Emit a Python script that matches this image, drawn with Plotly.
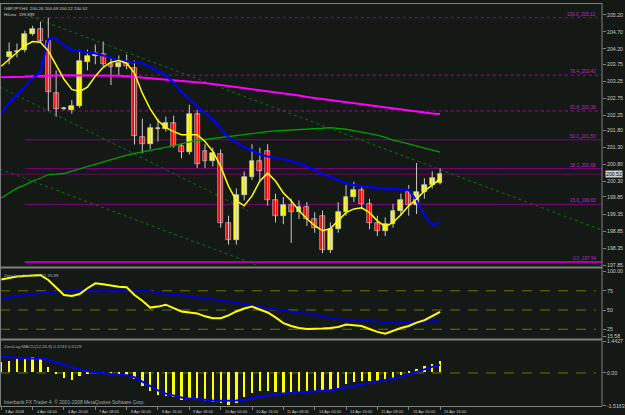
import plotly.graph_objects as go

# ---------------- data ----------------
bar_index = list(range(56))
opens  = [203.97,204.10,204.18,204.65,204.80,204.42,202.90,202.44,202.41,202.53,203.81,203.98,204.04,203.75,203.66,203.78,
          203.63,201.62,201.42,201.86,201.86,202.03,201.36,201.16,202.29,201.19,200.90,201.10,199.10,198.60,199.90,200.45,
          200.90,201.20,199.75,199.30,199.60,199.40,199.55,199.20,199.30,198.30,198.90,199.40,199.85,200.05,199.65,199.10,
          198.85,199.05,199.45,200.00,199.60,200.00,200.20,200.26]
highs  = [204.39,204.36,204.74,204.88,205.00,205.12,203.57,202.50,202.70,204.18,204.18,204.33,204.42,203.95,204.01,204.04,
          203.86,202.15,202.00,202.15,202.21,202.24,201.42,202.56,202.41,201.40,201.30,201.25,199.30,200.10,200.60,201.40,
          201.30,201.40,199.95,199.85,199.80,199.75,199.70,199.40,199.45,199.10,199.70,200.20,200.30,200.20,199.80,199.30,
          199.25,199.65,199.95,200.20,200.85,200.40,200.60,200.69]
lows   = [203.75,203.95,204.10,204.59,204.39,202.38,202.21,202.40,202.30,202.47,203.57,203.75,203.70,203.14,203.43,203.60,
          201.39,201.13,201.25,201.48,201.77,201.30,200.99,201.10,200.70,200.70,200.75,198.95,198.45,198.45,199.75,200.35,
          200.30,199.60,199.10,199.05,198.50,199.20,199.00,198.80,198.20,198.20,198.80,199.30,199.70,199.50,198.90,198.70,
          198.70,198.95,199.30,199.30,199.35,199.80,200.10,200.22]
closes = [204.10,204.15,204.65,204.80,204.42,202.93,202.44,202.46,202.53,203.84,203.98,204.07,203.75,203.66,203.78,203.69,
          201.65,201.42,201.89,201.88,202.03,201.36,201.16,202.29,200.81,200.90,201.15,199.10,198.60,199.90,200.45,200.90,
          200.60,199.75,199.30,199.60,199.40,199.55,199.20,198.95,198.30,198.90,199.40,199.85,200.05,199.65,199.10,198.85,
          199.05,199.45,199.75,199.60,200.00,200.20,200.40,200.52]

line_index = list(range(-1, 56))
ma_yellow = [203.69,203.89,204.10,204.30,204.42,204.40,204.14,203.72,203.31,203.01,202.95,203.08,203.40,203.66,203.81,203.86,
             203.78,203.49,202.90,202.44,202.09,201.89,201.77,201.68,201.68,201.68,201.48,201.19,200.75,200.17,199.74,199.59,
             199.88,200.32,200.55,200.32,199.97,199.74,199.45,199.21,199.01,198.86,198.92,199.15,199.39,199.50,199.53,199.39,
             199.15,198.98,199.10,199.33,199.59,199.79,200.03,200.20,200.38]
ma_blue = [202.32,202.61,202.85,203.08,203.34,203.52,204.50,204.50,204.30,204.18,204.13,204.10,204.07,204.01,203.95,203.86,
           203.83,203.81,203.78,203.66,203.54,203.43,203.20,202.93,202.73,202.50,202.32,202.12,201.86,201.60,201.45,201.31,
           201.22,201.10,201.04,201.01,200.96,200.90,200.84,200.75,200.64,200.52,200.43,200.35,200.26,200.20,200.17,200.14,
           200.11,200.08,200.08,200.08,200.06,199.74,199.30,199.04,199.10]
ma_magenta = [203.37,203.37,203.38,203.38,203.40,203.40,203.41,203.42,203.43,203.43,203.43,203.43,203.43,203.43,203.43,203.41,
              203.40,203.38,203.37,203.36,203.34,203.31,203.30,203.27,203.25,203.22,203.20,203.17,203.14,203.11,203.08,203.05,
              203.02,202.99,202.96,202.93,202.90,202.88,202.83,202.79,202.76,202.73,202.70,202.67,202.64,202.60,202.56,202.53,
              202.50,202.47,202.44,202.41,202.38,202.35,202.32,202.30,202.29]
ma_green = [199.82,199.97,200.11,200.20,200.32,200.40,200.51,200.52,200.54,200.61,200.68,200.75,200.81,200.87,200.94,201.02,
            201.08,201.13,201.17,201.22,201.26,201.31,201.36,201.42,201.47,201.51,201.54,201.57,201.60,201.63,201.65,201.70,
            201.73,201.76,201.77,201.79,201.80,201.81,201.83,201.84,201.86,201.87,201.89,201.87,201.84,201.80,201.76,201.71,
            201.67,201.60,201.52,201.47,201.41,201.35,201.29,201.23,201.17]

stoch_main = [89.7,91.6,93.4,94.1,94.7,95.3,89.0,79.6,69.5,68.2,70.8,78.3,84.6,83.4,81.5,80.2,79.6,69.5,62.0,53.1,54.4,56.9,
              52.5,48.1,46.8,45.6,41.8,39.3,39.3,43.0,48.1,51.9,54.4,50.6,46.8,40.5,33.0,29.2,26.7,25.4,25.4,26.0,26.7,27.9,
              31.1,30.4,29.2,25.4,21.6,19.1,22.9,26.7,29.2,33.6,36.7,42.5,47.6]
stoch_signal = [64.5,66.4,68.2,69.5,70.8,72.0,73.3,73.9,74.5,74.5,74.5,75.2,75.8,75.8,75.8,75.8,75.8,75.8,75.2,74.5,72.7,
                70.8,70.1,69.5,67.6,65.7,64.5,63.8,62.6,60.7,59.4,57.5,55.6,54.4,52.5,50.6,49.3,47.5,46.2,45.6,43.7,41.8,
                39.3,38.0,37.4,36.7,36.1,35.5,34.2,33.6,33.0,33.0,33.6,34.2,35.0,35.3,35.9]

macd_hist = [0.50,0.55,0.60,0.68,0.72,0.65,0.25,-0.05,-0.25,-0.35,-0.15,-0.05,0.02,-0.02,-0.08,-0.10,-0.15,-0.30,-0.60,
             -0.85,-1.05,-1.10,-1.15,-1.25,-1.20,-1.25,-1.30,-1.35,-1.40,-1.50,-1.40,-1.15,-0.95,-0.85,-0.85,-0.90,-0.95,
             -0.95,-0.90,-0.85,-0.85,-0.85,-0.80,-0.70,-0.55,-0.45,-0.40,-0.40,-0.40,-0.35,-0.25,-0.10,0.05,0.15,0.30,
             0.40,0.51]
macd_signal = [0.75,0.72,0.70,0.68,0.67,0.66,0.60,0.50,0.38,0.25,0.15,0.08,0.03,-0.02,-0.05,-0.08,-0.10,-0.20,-0.40,-0.60,
               -0.80,-0.95,-1.05,-1.13,-1.18,-1.22,-1.25,-1.27,-1.28,-1.28,-1.27,-1.24,-1.18,-1.08,-1.02,-0.98,-0.95,-0.93,
               -0.91,-0.89,-0.87,-0.84,-0.80,-0.74,-0.67,-0.60,-0.52,-0.45,-0.40,-0.34,-0.27,-0.18,-0.07,0.05,0.17,0.28,0.37]

fib_high, fib_low = 205.12, 197.94
fib_ratios = [100.0, 76.4, 61.8, 50.0, 38.2, 23.6, 0.0]
fib_start_bar = 2
current_price = 200.52

# trend channel endpoints (bar index, price)
trend_lines = [((2.63, 205.165), (75.67, 198.875)),
               ((-1.17, 203.08), (30.5, 199.45)),
               ((-1.17, 200.67), (31.6, 197.85))]

price_ticks = [205.20, 204.70, 204.20, 203.75, 203.25, 202.75, 202.25, 201.80, 201.30, 200.80, 200.30, 199.85,
               199.35, 198.85, 198.35, 197.85]
price_tick_text = ["205.20", "204.70", "204.20", "203.75", "203.25", "202.75", "202.25", "201.80", "201.30",
                   "200.80", "200.30", "199.85", "199.35", "198.85", "198.35", "197.85"]
stoch_ticks = [100, 75, 50, 25, 15.58]
stoch_tick_text = ["100.00", "75", "50", "25", "15.58"]
stoch_levels = [75, 50, 25]
macd_ticks = [1.4427, 0, -1.5163]
macd_tick_text = ["1.4427", "0.00", "-1.5163"]

time_tick_bars = [-1, 3, 7, 11, 15, 19, 23, 27, 31, 35, 39, 43, 47, 51, 55]
time_tick_text = ["3 Apr 2008", "4 Apr 04:00", "4 Apr 20:00", "7 Apr 08:00", "8 Apr 00:00", "8 Apr 16:00",
                  "9 Apr 08:00", "10 Apr 00:00", "10 Apr 16:00", "11 Apr 08:00", "14 Apr 00:00", "14 Apr 16:00",
                  "15 Apr 08:00", "16 Apr 00:00", "16 Apr 16:00"]

header_text = "GBPJPY,H4  200.26 200.69 200.22 200.52<br>HiLow  199.899"
stoch_text = "Zero Lag Stoch 47.62 35.88"
macd_text = "ZeroLag MACD(12,26,9) 0.3743 0.5129"
copyright_text = "Interbank FX Trader 4, \u00a9 2001-2008 MetaQuotes Software Corp."

# ---------------- layout geometry ----------------
W, H = 625, 415
M_R, M_B = 18, 9
PH = H - M_B


def py(p):
    return 1 - p / PH


BG = "#151915"
GRID = "#808080"
FONT = "Liberation Sans"
TXT = "#c8c8c8"

fig = go.Figure()

# wicks
wx, wy = [], []
for i, h, l in zip(bar_index, highs, lows):
    wx += [i, i, None]
    wy += [l, h, None]
fig.add_trace(go.Scatter(x=wx, y=wy, mode="lines", line=dict(color="#c8c8c8", width=1), hoverinfo="skip",
                         xaxis="x", yaxis="y"))

up_x, up_b, up_h, dn_x, dn_b, dn_h = [], [], [], [], [], []
for i, o, c in zip(bar_index, opens, closes):
    if c >= o:
        up_x.append(i); up_b.append(o); up_h.append(max(c - o, 0.02))
    else:
        dn_x.append(i); dn_b.append(c); dn_h.append(o - c)
fig.add_trace(go.Bar(x=up_x, y=up_h, base=up_b, width=0.62, marker=dict(color="#ffff00", line=dict(color="#d8d8d8", width=0.6)),
                     xaxis="x", yaxis="y"))
fig.add_trace(go.Bar(x=dn_x, y=dn_h, base=dn_b, width=0.62, marker=dict(color="#ff0000", line=dict(color="#d8d8d8", width=0.6)),
                     xaxis="x", yaxis="y"))

# moving averages
fig.add_trace(go.Scatter(x=line_index, y=ma_green, mode="lines", line=dict(color="#00a000", width=1.3), xaxis="x", yaxis="y"))
fig.add_trace(go.Scatter(x=line_index, y=ma_magenta, mode="lines", line=dict(color="#ff00ff", width=2), xaxis="x", yaxis="y"))
fig.add_trace(go.Scatter(x=line_index, y=ma_blue, mode="lines", line=dict(color="#0000ff", width=2.2), xaxis="x", yaxis="y"))
fig.add_trace(go.Scatter(x=line_index, y=ma_yellow, mode="lines", line=dict(color="#ffff00", width=1.5), xaxis="x", yaxis="y"))

# stochastic panel
fig.add_trace(go.Scatter(x=line_index, y=stoch_signal, mode="lines", line=dict(color="#0000d0", width=2), xaxis="x", yaxis="y2"))
fig.add_trace(go.Scatter(x=line_index, y=stoch_main, mode="lines", line=dict(color="#ffff00", width=2), xaxis="x", yaxis="y2"))

# macd panel
fig.add_trace(go.Bar(x=line_index, y=macd_hist, width=0.3, marker=dict(color="#ffff00", line=dict(width=0)), xaxis="x", yaxis="y3"))
fig.add_trace(go.Scatter(x=line_index, y=macd_signal, mode="lines", line=dict(color="#0000ff", width=2), xaxis="x", yaxis="y3"))

shapes = []
x_max = 75.67
x_min = -1.165
# fibo lines
for r in fib_ratios:
    lvl = fib_low + (fib_high - fib_low) * r / 100.0
    if r in (100.0, 76.4, 61.8):
        ln = dict(color="#800080", width=1.4, dash="dot")
    elif r == 0.0:
        ln = dict(color="#b000b0", width=2)
    else:
        ln = dict(color="#800080", width=1)
    shapes.append(dict(type="line", xref="x", yref="y", x0=fib_start_bar, x1=x_max, y0=lvl, y1=lvl, line=ln, layer="below"))
# current price line
shapes.append(dict(type="line", xref="x", yref="y", x0=x_min, x1=x_max, y0=current_price, y1=current_price,
                   line=dict(color="#700070", width=1), layer="below"))
# trend channel
for (a, b) in trend_lines:
    shapes.append(dict(type="line", xref="x", yref="y", x0=a[0], y0=a[1], x1=b[0], y1=b[1],
                       line=dict(color="#107010", width=1, dash="dot"), layer="below"))
# stoch levels
for lv in stoch_levels:
    shapes.append(dict(type="line", xref="paper", yref="y2", x0=0, x1=0.99, y0=lv, y1=lv,
                       line=dict(color="#707000", width=1, dash="10px,8px"), layer="below"))
shapes.append(dict(type="line", xref="paper", yref="y3", x0=0, x1=0.99, y0=0, y1=0,
                   line=dict(color="#707000", width=1, dash="10px,8px"), layer="below"))
# separators and frame
for p in (266.5, 339):
    shapes.append(dict(type="line", xref="paper", yref="paper", x0=0, x1=1, y0=py(p), y1=py(p),
                       line=dict(color=GRID, width=2)))
shapes.append(dict(type="line", xref="paper", yref="paper", x0=0, x1=1, y0=py(0.5), y1=py(0.5), line=dict(color=GRID, width=1)))
shapes.append(dict(type="line", xref="paper", yref="paper", x0=1, x1=1, y0=0, y1=1, line=dict(color=GRID, width=1)))
shapes.append(dict(type="line", xref="paper", yref="paper", x0=0.0008, x1=0.0008, y0=0, y1=1, line=dict(color=GRID, width=1)))

annotations = []
for r in fib_ratios:
    lvl = fib_low + (fib_high - fib_low) * r / 100.0
    annotations.append(dict(xref="x", yref="y", x=75.2, y=lvl, xanchor="right", yanchor="bottom",
                            text=f"{r:.1f}_{lvl:.2f}", showarrow=False, yshift=-1,
                            font=dict(family=FONT, size=4.6, color="#b030c0")))
annotations.append(dict(xref="paper", yref="y", x=1, y=current_price, xanchor="left", yanchor="middle", xshift=3,
                        text=f"{current_price:.2f}", showarrow=False, bgcolor="#d0d0d0", borderpad=0,
                        font=dict(family=FONT, size=5.2, color="#000000")))
for b, t in zip(time_tick_bars, time_tick_text):
    annotations.append(dict(xref="x", yref="paper", x=b, y=0, xanchor="left", yanchor="top", xshift=2, yshift=-1,
                            text=t, showarrow=False, font=dict(family=FONT, size=3.9, color=TXT)))
annotations.append(dict(xref="paper", yref="paper", x=0, y=1, xanchor="left", yanchor="top", xshift=2, yshift=-1,
                        text=header_text, showarrow=False, align="left",
                        font=dict(family=FONT, size=4.4, color=TXT)))
annotations.append(dict(xref="paper", yref="paper", x=0, y=py(270), xanchor="left", yanchor="top", xshift=2,
                        text=stoch_text, showarrow=False, font=dict(family=FONT, size=4.4, color="#a8a8a8")))
annotations.append(dict(xref="paper", yref="paper", x=0, y=py(341.5), xanchor="left", yanchor="top", xshift=2,
                        text=macd_text, showarrow=False, font=dict(family=FONT, size=4.4, color="#a8a8a8")))
annotations.append(dict(xref="paper", yref="paper", x=0, y=py(397), xanchor="left", yanchor="top", xshift=2,
                        text=copyright_text, showarrow=False, font=dict(family=FONT, size=4.9, color="#a8a8a8")))

yax_common = dict(side="right", showgrid=False, zeroline=False, showline=False, ticks="outside", ticklen=3,
                  tickcolor=GRID, tickfont=dict(family=FONT, size=5.2, color=TXT), anchor="x", fixedrange=True)

fig.update_layout(
    width=W, height=H, margin=dict(l=0, r=M_R, t=0, b=M_B),
    paper_bgcolor=BG, plot_bgcolor=BG, showlegend=False, barmode="overlay", bargap=0,
    shapes=shapes, annotations=annotations,
    xaxis=dict(domain=[0, 1], range=[x_min, x_max], anchor="y3", showgrid=False, zeroline=False,
               showline=True, linecolor=GRID, linewidth=1, ticks="outside", ticklen=3, tickcolor=GRID,
               tickvals=time_tick_bars, showticklabels=False),
    yaxis=dict(domain=[py(264), 1], range=[197.85, 205.55], tickvals=price_ticks, ticktext=price_tick_text, **yax_common),
    yaxis2=dict(domain=[py(337), py(270)], range=[14.29, 100.64], tickvals=stoch_ticks, ticktext=stoch_tick_text, **yax_common),
    yaxis3=dict(domain=[0, py(341)], range=[-1.52, 1.447], tickvals=macd_ticks, ticktext=macd_tick_text, **yax_common),
)

fig.write_html("out.html")
